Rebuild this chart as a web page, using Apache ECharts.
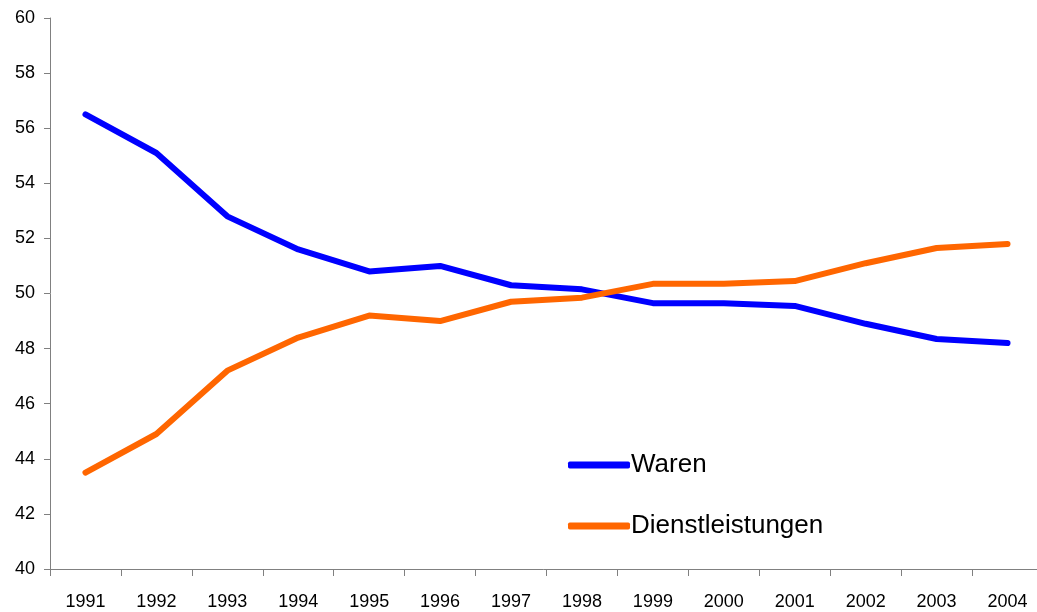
<!DOCTYPE html>
<html>
<head>
<meta charset="utf-8">
<script src="https://cdn.jsdelivr.net/npm/echarts@6/dist/echarts.min.js"></script>
<style>
  html, body { margin: 0; padding: 0; background: #fff; }
  #chart { width: 1037px; height: 612px; }
</style>
</head>
<body>
<div id="chart"></div>
<script>
// Jahre
const years = ['1991', '1992', '1993', '1994', '1995', '1996', '1997', '1998', '1999', '2000', '2001', '2002', '2003', '2004']
// Anteile in %
const waren = [56.5, 55.1, 52.8, 51.6, 50.8, 51.0, 50.3, 50.15, 49.65, 49.65, 49.55, 48.9, 48.35, 48.2]
const dienstleistungen = [43.5, 44.9, 47.2, 48.4, 49.2, 49.0, 49.7, 49.85, 50.35, 50.35, 50.45, 51.1, 51.65, 51.8]

const font = 'Liberation Sans, Arial, sans-serif'
const chart = echarts.init(document.getElementById('chart'))

chart.setOption({
  animation: false,
  grid: { left: 50, width: 993, top: 18, height: 551, outerBoundsMode: 'none', containLabel: false },
  legend: {
    orient: 'vertical',
    left: 563,
    top: 447,
    itemWidth: 62,
    itemHeight: 7,
    itemGap: 35,
    icon: 'roundRect',
    textStyle: { fontFamily: font, fontSize: 26, color: '#000', padding: [0, 0, 0, -4] },
    data: ['Waren', 'Dienstleistungen']
  },
  xAxis: {
    type: 'category',
    data: years,
    boundaryGap: true,
    axisLine: { lineStyle: { color: '#808080', width: 1 } },
    axisTick: { show: true, length: 7, lineStyle: { color: '#808080' } },
    axisLabel: { fontFamily: font, fontSize: 18, color: '#000', margin: 24 },
    splitLine: { show: false }
  },
  yAxis: {
    type: 'value',
    min: 40,
    max: 60,
    interval: 2,
    axisLine: { show: true, lineStyle: { color: '#808080', width: 1 } },
    axisTick: { show: true, length: 6, lineStyle: { color: '#808080' } },
    axisLabel: { fontFamily: font, fontSize: 18, color: '#000', margin: 15 },
    splitLine: { show: false }
  },
  series: [
    {
      name: 'Waren',
      type: 'line',
      data: waren,
      symbol: 'none',
      color: '#0000FF',
      lineStyle: { width: 6, color: '#0000FF', cap: 'round', join: 'round' }
    },
    {
      name: 'Dienstleistungen',
      type: 'line',
      data: dienstleistungen,
      symbol: 'none',
      color: '#FF6600',
      lineStyle: { width: 6, color: '#FF6600', cap: 'round', join: 'round' }
    }
  ]
})
</script>
</body>
</html>
